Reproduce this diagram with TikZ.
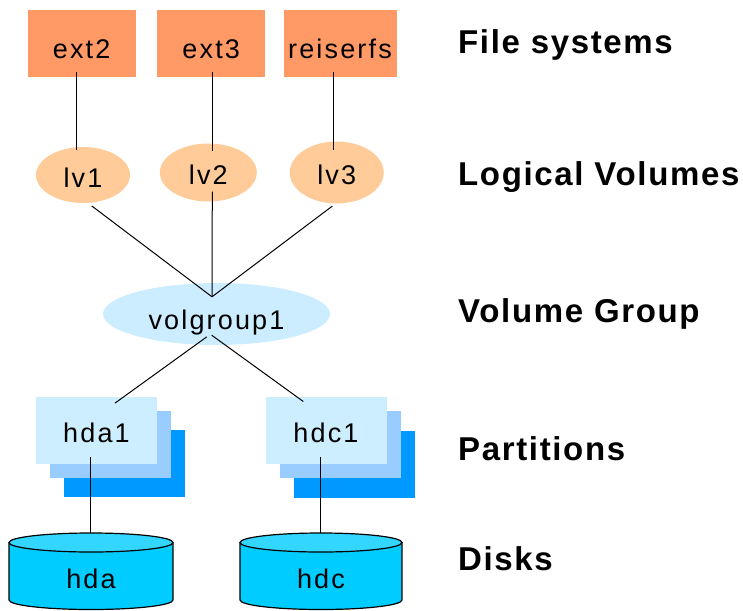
\documentclass[tikz,border=0pt]{standalone}
\usepackage{fontspec}
\setmainfont{Liberation Sans}
\newfontfamily\nodefont{Liberation Sans}[LetterSpace=8]
\newfontfamily\layerfont{Liberation Sans}[LetterSpace=5]
\usetikzlibrary{shapes.geometric}
\definecolor{fsorange}{HTML}{FF9966}
\definecolor{lvorange}{HTML}{FFCC99}
\definecolor{vgblue}{HTML}{CCECFF}
\definecolor{partfront}{HTML}{CCEEFF}
\definecolor{partmid}{HTML}{99CCFF}
\definecolor{partback}{HTML}{0099FF}
\definecolor{diskbody}{HTML}{00CCFF}
\definecolor{disktop}{HTML}{33D6FF}
\begin{document}
\begin{tikzpicture}[x=1pt,y=-1pt,
  nodetext/.style={font=\nodefont\fontsize{27pt}{30pt}\selectfont, inner sep=0pt},
  fsbox/.style={nodetext, rectangle, fill=fsorange, minimum height=67pt, text height=29pt, text depth=0pt},
  lvell/.style={nodetext, ellipse, fill=lvorange, text height=24pt, text depth=0pt},
  vgell/.style={nodetext, ellipse, fill=vgblue, minimum width=227pt, minimum height=62pt, text height=30pt, text depth=0pt},
  partbox/.style={nodetext, rectangle, minimum width=121pt, minimum height=67pt},
  partfrontbox/.style={partbox, fill=partfront, text height=23pt, text depth=0pt},
  disktext/.style={nodetext, anchor=base},
  layerlabel/.style={font=\layerfont\bfseries\fontsize{33pt}{36pt}\selectfont, inner sep=0pt, anchor=base west},
  conn/.style={draw=black, line width=1pt},
  diskline/.style={draw=black, line width=1.2pt}
]
\useasboundingbox (0,0) rectangle (743,610);

% File systems
\node[fsbox, minimum width=108pt] (ext2) at (81.7,43.7) {ext2};
\node[fsbox, minimum width=108pt] (ext3) at (211.2,43.7) {ext3};
\node[fsbox, minimum width=113pt] (reiserfs) at (340,43.7) {reiserfs};

% Logical volumes
\node[lvell, minimum width=94pt, minimum height=56pt] (lv1) at (83,175) {lv1};
\node[lvell, minimum width=97pt, minimum height=58pt] (lv2) at (208.3,172.5) {lv2};
\node[lvell, minimum width=94pt, minimum height=62pt] (lv3) at (336.7,172.5) {lv3};

% Volume group
\node[vgell] (vg) at (216.5,314) {volgroup1};

% Partitions
\node[partbox, fill=partback] (hda1back) at (124.5,463) {};
\node[partbox, fill=partmid] (hda1mid) at (110.5,444.5) {};
\node[partfrontbox] (hda1) at (96.5,430.5) {hda1};
\node[partbox, fill=partback] (hdc1back) at (354,464) {};
\node[partbox, fill=partmid] (hdc1mid) at (340,444.5) {};
\node[partfrontbox] (hdc1) at (326,430.5) {hdc1};

% Disks
\fill[diskbody] (9,542.5) rectangle (173,600);
\fill[diskbody] (91,600) ellipse [x radius=82pt, y radius=9.5pt];
\draw[diskline] (9,542.5) -- (9,600) arc[start angle=180, end angle=360, x radius=82pt, y radius=9.5pt] -- (173,542.5);
\draw[diskline, fill=disktop] (91,542.5) ellipse [x radius=82pt, y radius=9.5pt];
\node[disktext] (hda) at (91,588) {hda};
\coordinate (hdatop) at (90.7,533.3);

\fill[diskbody] (240,542.5) rectangle (402,600);
\fill[diskbody] (321,600) ellipse [x radius=81pt, y radius=9.5pt];
\draw[diskline] (240,542.5) -- (240,600) arc[start angle=180, end angle=360, x radius=81pt, y radius=9.5pt] -- (402,542.5);
\draw[diskline, fill=disktop] (321,542.5) ellipse [x radius=81pt, y radius=9.5pt];
\node[disktext] (hdc) at (321,588) {hdc};
\coordinate (hdctop) at (320,533.3);

% Connectors
\draw[conn] ([xshift=-5pt,yshift=5.3pt]ext2.south) -- ([xshift=-6.3pt,yshift=-3pt]lv1.north);
\draw[conn] ([xshift=1.1pt,yshift=5.3pt]ext3.south) -- ([xshift=4pt,yshift=-8pt]lv2.north);
\draw[conn] ([xshift=-6.7pt,yshift=5.3pt]reiserfs.south) -- ([xshift=-3.4pt,yshift=-9pt]lv3.north);
\draw[conn] ([xshift=8.7pt,yshift=-2.7pt]lv1.south) -- ([xshift=-4.5pt,yshift=-14pt]vg.north);
\draw[conn] ([xshift=4pt,yshift=10pt]lv2.south) -- ([xshift=-4.5pt,yshift=-14pt]vg.north);
\draw[conn] ([xshift=-4.4pt,yshift=-2.4pt]lv3.south) -- ([xshift=-4.5pt,yshift=-14pt]vg.north);
\draw[conn] ([xshift=-9.8pt,yshift=8.3pt]vg.south) -- ([xshift=18.5pt,yshift=-6.3pt]hda1.north);
\draw[conn] ([xshift=-4.8pt,yshift=10pt]vg.south) -- ([xshift=-22.7pt,yshift=-4.7pt]hdc1.north);
\draw[conn] ([xshift=-5.8pt,yshift=7.3pt]hda1.south) -- (hdatop);
\draw[conn] ([xshift=-6pt,yshift=7.3pt]hdc1.south) -- (hdctop);

% Layer labels
\node[layerlabel] (lfs) at (458,53) {File systems};
\node[layerlabel] (llv) at (458,185) {Logical Volumes};
\node[layerlabel] (lvg) at (458,322) {Volume Group};
\node[layerlabel] (lpart) at (458,460) {Partitions};
\node[layerlabel] (ldisk) at (458,570) {Disks};
\end{tikzpicture}
\end{document}
